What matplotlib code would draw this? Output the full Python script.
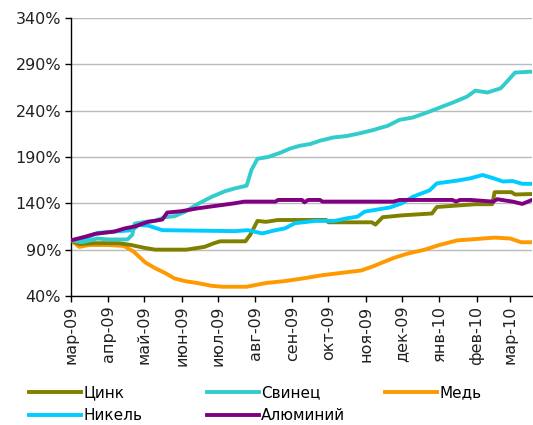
import matplotlib
matplotlib.use('Agg')
import matplotlib.pyplot as plt
import pandas as pd

# Цинк
zinc_dates = ['2009-03-01', '2009-03-08', '2009-03-20', '2009-04-10', '2009-04-20', '2009-05-01',
              '2009-05-10', '2009-06-05', '2009-06-20', '2009-06-28', '2009-07-03', '2009-07-24',
              '2009-07-28', '2009-08-03', '2009-08-10', '2009-08-20', '2009-09-29', '2009-10-01',
              '2009-11-06', '2009-11-09', '2009-11-15', '2009-12-01', '2009-12-26', '2009-12-30',
              '2010-01-31', '2010-02-14', '2010-02-16', '2010-03-02', '2010-03-05', '2010-03-19']
zinc = [100, 96, 97, 97, 95, 92,
        90, 90, 93, 97, 99, 99,
        106, 121, 120, 122, 122, 119.5,
        119.5, 117, 125, 127, 129, 136,
        139, 139, 152, 152, 149.5, 150]

# Свинец
lead_dates = ['2009-03-01', '2009-03-10', '2009-03-23', '2009-04-01', '2009-04-17', '2009-04-21',
              '2009-04-23', '2009-05-02', '2009-05-10', '2009-05-18', '2009-05-26', '2009-06-04',
              '2009-06-14', '2009-06-26', '2009-07-07', '2009-07-15', '2009-07-25', '2009-07-29',
              '2009-08-03', '2009-08-12', '2009-08-22', '2009-08-30', '2009-09-07', '2009-09-16',
              '2009-09-24', '2009-10-05', '2009-10-16', '2009-10-27', '2009-11-07', '2009-11-19',
              '2009-11-29', '2009-12-10', '2009-12-22', '2010-01-02', '2010-01-12', '2010-01-24',
              '2010-01-31', '2010-02-10', '2010-02-21', '2010-02-25', '2010-03-05', '2010-03-19']
lead = [100, 98, 102, 101, 101, 106,
        118, 120, 121, 125, 126, 131,
        139, 147, 153, 156, 159, 176,
        188, 190, 194.5, 199, 202, 204,
        207.5, 211, 212.5, 215.5, 219, 223.5,
        230, 232.5, 238, 243.5, 248.5, 255,
        261.5, 259.5, 264, 269.5, 281, 282]

# Медь
copper_dates = ['2009-03-01', '2009-03-08', '2009-03-16', '2009-04-01', '2009-04-14', '2009-04-22',
                '2009-05-02', '2009-05-10', '2009-05-18', '2009-05-26', '2009-06-04', '2009-06-14',
                '2009-06-26', '2009-07-05', '2009-07-25', '2009-08-10', '2009-08-25', '2009-09-10',
                '2009-09-26', '2009-10-12', '2009-10-28', '2009-11-07', '2009-11-24', '2009-12-05',
                '2009-12-20', '2010-01-01', '2010-01-16', '2010-02-01', '2010-02-16', '2010-03-01',
                '2010-03-10', '2010-03-19']
copper = [100, 93, 95, 95, 94, 88,
          76, 70, 65, 59, 56, 54,
          51, 50, 50, 54, 56, 59,
          62.5, 65, 67.5, 72, 81, 85.5,
          90, 95, 100, 101.5, 103, 102,
          98, 98]

# Никель
nickel_dates = ['2009-03-01', '2009-03-13', '2009-03-23', '2009-04-06', '2009-04-21', '2009-04-26',
                '2009-05-04', '2009-05-16', '2009-06-14', '2009-07-15', '2009-07-26', '2009-08-07',
                '2009-08-18', '2009-08-26', '2009-09-03', '2009-09-20', '2009-10-06', '2009-10-17',
                '2009-10-25', '2009-10-31', '2009-11-21', '2009-12-01', '2009-12-10', '2009-12-24',
                '2009-12-30', '2010-01-16', '2010-01-27', '2010-02-06', '2010-02-15', '2010-02-23',
                '2010-03-03', '2010-03-11', '2010-03-19']
nickel = [100, 102, 108, 109.5, 111, 116.5,
          116, 111, 110.5, 110, 111, 107.5,
          111, 113, 118.5, 121, 121, 124,
          125.5, 131, 135.5, 140, 147, 154,
          161.5, 164.5, 167, 170.5, 167, 163.5,
          164, 161, 161]

# Алюминий
alu_dates = ['2009-03-01', '2009-03-13', '2009-03-21', '2009-04-06', '2009-04-15', '2009-04-23',
             '2009-05-04', '2009-05-16', '2009-05-20', '2009-06-01', '2009-06-14', '2009-06-28',
             '2009-07-15', '2009-07-23', '2009-08-18', '2009-08-20', '2009-09-09', '2009-09-11',
             '2009-09-14', '2009-09-24', '2009-09-26', '2009-11-24', '2009-11-29', '2010-01-12',
             '2010-01-15', '2010-01-18', '2010-01-27', '2010-02-15', '2010-02-18', '2010-03-03',
             '2010-03-11', '2010-03-19']
alu = [100, 104, 107, 109.5, 113, 115,
       120, 122.5, 130, 131.5, 134.5, 137,
       140, 141.8, 141.8, 143.6, 143.6, 141,
       143.6, 143.6, 141.8, 141.8, 143.6, 143.6,
       141.8, 143.6, 143.6, 141.8, 144.4, 141.8,
       139.3, 143.6]

month_ticks = pd.date_range('2009-03-01', '2010-03-01', freq='MS')
month_labels = ['мар-09', 'апр-09', 'май-09', 'июн-09', 'июл-09', 'авг-09', 'сен-09',
                'окт-09', 'ноя-09', 'дек-09', 'янв-10', 'фев-10', 'мар-10']

series = [
    ('Цинк', zinc_dates, zinc, '#808000'),
    ('Свинец', lead_dates, lead, '#33CCCC'),
    ('Медь', copper_dates, copper, '#FF9900'),
    ('Никель', nickel_dates, nickel, '#00CCFF'),
    ('Алюминий', alu_dates, alu, '#800080'),
]

plt.rcParams['font.family'] = ['DejaVu Sans']
fig = plt.figure(figsize=(5.33, 4.25), dpi=100)
ax = fig.add_axes([0.133, 0.3035, 0.865, 0.6545])

# порядок отрисовки: алюминий сверху
zorders = {'Цинк': 3, 'Свинец': 4, 'Медь': 2, 'Никель': 3.5, 'Алюминий': 5}
lines = {}
for name, d, v, c in series:
    lines[name], = ax.plot(pd.to_datetime(d), v, color=c, lw=2.8, label=name,
                           zorder=zorders[name])

ax.set_ylim(40, 340)
ax.set_yticks(range(40, 341, 50))
ax.set_yticklabels([f'{t}%' for t in range(40, 341, 50)], fontsize=11.5, color='#222222')
ax.set_xlim(pd.Timestamp('2009-03-01'), pd.Timestamp('2010-03-19'))
ax.set_xticks(month_ticks)
ax.set_xticklabels(month_labels, rotation=90, fontsize=11.5, color='#222222')

ax.grid(axis='y', color='#BBBBBB', lw=1)
ax.set_axisbelow(True)
for s in ['top', 'right']:
    ax.spines[s].set_visible(False)
for s in ['left', 'bottom']:
    ax.spines[s].set_color('black')
    ax.spines[s].set_linewidth(1)
ax.tick_params(axis='both', direction='out', length=4, width=1, pad=3)

# легенда: три колонки с фиксированными позициями
legend_cols = [(['Цинк', 'Никель'], 29), (['Свинец', 'Алюминий'], 207), (['Медь'], 385)]
for names, xpix in legend_cols:
    fig.legend([lines[n] for n in names], names, loc='upper left',
               bbox_to_anchor=(xpix / 533, 1 - 385 / 425), frameon=False,
               fontsize=11, handlelength=3.4, handletextpad=0.15,
               labelspacing=0.55, borderaxespad=0, borderpad=0)

fig.savefig('out.png', dpi=100)
